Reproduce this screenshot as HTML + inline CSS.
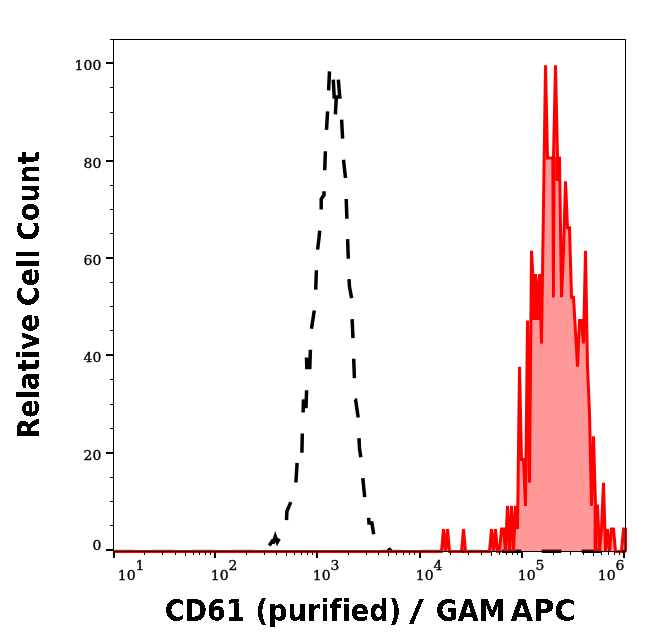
<!DOCTYPE html>
<html><head><meta charset="utf-8"><title>CD61 histogram</title>
<style>html,body{margin:0;padding:0;background:#fff;}svg{display:block;will-change:transform;}.tl{font-family:"DejaVu Serif","Liberation Serif",serif;font-size:14px;fill:#000;stroke:#000;stroke-width:0.35px;}.tt{font-family:"DejaVu Sans","Liberation Sans",sans-serif;font-weight:bold;font-size:30px;fill:#000;font-variant-ligatures:none;font-feature-settings:"liga" 0,"clig" 0;}</style></head><body>
<svg width="646" height="641" viewBox="0 0 646 641">
<defs><filter id="crisp" x="-0.1" y="-0.2" width="1.2" height="1.4" filterUnits="objectBoundingBox" color-interpolation-filters="sRGB"><feComponentTransfer><feFuncA type="discrete" tableValues="0 1"/></feComponentTransfer></filter></defs>
<rect width="646" height="641" fill="#fff"/>
<path d="M113.5,551.3 L133.5,551.3 M153.5,551.3 L173.5,551.3 M193.5,551.3 L213.5,551.3 M233.5,551.3 L253.5,551.3 M381.8,551.3 L387.3,551.3 L389.6,549.4 L391.9,551.3 L401.3,551.3 M421.8,551.3 L441.3,551.3 M461.8,551.3 L481.3,551.3 M501.8,551.3 L521.3,551.3 M541.8,551.3 L561.3,551.3 M581.8,551.3 L601.3,551.3 M621.8,551.3 L625.5,551.3" fill="none" stroke="#000" stroke-width="3.4" stroke-linejoin="miter"/>
<path d="M269.3,545.5 L272.3,541 L273.6,541.8 L275.3,536.5 L277.3,542 L279.2,538.6 M286.5,520.2 L286.9,511.2 L290.8,502.1 M295.9,482.5 L297.1,462.9 M301.9,452.7 L302.3,433.5 M303.1,412.5 L303.5,399.5 L306,408 L306.6,390.3 M306.5,357.5 L306.8,367.5 L309.8,367.5 L310.4,349.8 M311.4,328.7 L312.3,323.4 L314.3,310.5 M315.7,289.6 L316.4,270.2 M317.6,249.6 L319,238 L319.7,230.6 M321.2,209.6 L321.2,199.1 L324,194.9 L324,191.3 M324.7,170.3 L325.4,151.3 M326.5,129.9 L327.6,111.3 M328.6,90.3 L329.5,71.3 M333.3,79.7 L334.2,97 L339.8,97 L338.3,79.7 M336.3,97 L335.4,114.4 M341.6,119.7 L342.6,138.6 M343.5,159.7 L345.5,178 M346.2,199 L346.9,218.7 M347.6,239.1 L348.3,258.7 M349,279.1 L349.5,286.9 L351.6,298.1 M352.1,319.2 L353,338.1 M353.7,358.7 L354.4,378.1 M354.7,399.2 L355.6,399.8 L358.2,417.4 M359,438.2 L359.5,448.6 L360.8,457.3 M362.8,478.1 L364.7,497.2 M368.6,517.9 L369,523.1 L371.9,523.1 L373.7,534.3" fill="none" stroke="#000" stroke-width="3.5" stroke-linejoin="miter"/>
<g fill="#c9e3e3" shape-rendering="crispEdges"><rect x="114" y="549" width="19.5" height="1"/><rect x="153.5" y="549" width="20" height="1"/><rect x="193.5" y="549" width="20" height="1"/><rect x="233.5" y="549" width="20" height="1"/><rect x="381.8" y="549" width="5.2" height="1"/><rect x="392.2" y="549" width="9.1" height="1"/><rect x="421.8" y="549" width="19.5" height="1"/><rect x="465.5" y="549" width="15.8" height="1"/></g>
<path d="M114,551.5 L441.5,551.5 L443.5,529.11 L445.5,551.5 L447.5,529.11 L449.5,551.5 L461.5,551.5 L463.5,529.11 L465.5,551.5 L489.5,551.5 L491.5,529.11 L493.5,551.5 L495.5,529.11 L497.5,551.5 L499.5,551.5 L501.5,529.11 L503.5,529.11 L505.5,551.5 L507.5,505.92 L509.5,551.5 L511.5,505.92 L513.5,551.5 L515.5,505.92 L517.5,529.11 L519.5,366.78 L521.5,459.54 L523.5,459.54 L525.5,505.92 L527.5,320.4 L529.5,482.73 L531.5,250.83 L533.5,287.93 L535.5,274.02 L537.5,308.8 L539.5,274.02 L541.5,343.59 L543.5,204.45 L545.5,65.31 L547.5,158.07 L553.5,158.07 L555.5,65.31 L557.5,158.07 L559.5,158.07 L561.5,297.21 L563.5,250.83 L565.5,181.26 L567.5,227.64 L569.5,227.64 L571.5,297.21 L573.5,297.21 L575.5,331.99 L577.5,366.78 L579.5,320.4 L581.5,320.4 L583.5,343.59 L585.5,250.83 L587.5,366.78 L589.5,413.16 L591.5,505.92 L593.5,436.35 L595.5,505.92 L597.5,505.92 L599.5,551.5 L601.5,529.11 L603.5,482.73 L605.5,551.5 L607.5,529.11 L609.5,551.5 L611.5,529.11 L613.5,529.11 L615.5,551.5 L621.5,551.5 L623.5,529.11 L625.5,529.11 L625.5,551.5 Z" fill="#ff0000" fill-opacity="0.4" stroke="none"/>
<path d="M114,551.5 L441.5,551.5 L443.5,529.11 L445.5,551.5 L447.5,529.11 L449.5,551.5 L461.5,551.5 L463.5,529.11 L465.5,551.5 L489.5,551.5 L491.5,529.11 L493.5,551.5 L495.5,529.11 L497.5,551.5 L499.5,551.5 L501.5,529.11 L503.5,529.11 L505.5,551.5 L507.5,505.92 L509.5,551.5 L511.5,505.92 L513.5,551.5 L515.5,505.92 L517.5,529.11 L519.5,366.78 L521.5,459.54 L523.5,459.54 L525.5,505.92 L527.5,320.4 L529.5,482.73 L531.5,250.83 L533.5,287.93 L535.5,274.02 L537.5,308.8 L539.5,274.02 L541.5,343.59 L543.5,204.45 L545.5,65.31 L547.5,158.07 L553.5,158.07 L555.5,65.31 L557.5,158.07 L559.5,158.07 L561.5,297.21 L563.5,250.83 L565.5,181.26 L567.5,227.64 L569.5,227.64 L571.5,297.21 L573.5,297.21 L575.5,331.99 L577.5,366.78 L579.5,320.4 L581.5,320.4 L583.5,343.59 L585.5,250.83 L587.5,366.78 L589.5,413.16 L591.5,505.92 L593.5,436.35 L595.5,505.92 L597.5,505.92 L599.5,551.5 L601.5,529.11 L603.5,482.73 L605.5,551.5 L607.5,529.11 L609.5,551.5 L611.5,529.11 L613.5,529.11 L615.5,551.5 L621.5,551.5 L623.5,529.11 L625.5,529.11 L625.5,551.5" fill="none" stroke="#ff0000" stroke-width="3" stroke-linejoin="miter" stroke-miterlimit="4"/>
<path d="M551.3,157 L555.6,157 L554.8,297.5 L552,297.5 Z" fill="#ff0000"/>
<path d="M532,280 L535.5,280 L537.5,289 L541,284 L541,320 L531.5,320 Z" fill="#ff0000"/>
<path d="M555.5,157 L559.5,157 L559.5,181 L555.5,181 Z" fill="#ff0000"/>
<path d="M593.6,506 L597,506 L597.6,551.5 L593.6,551.5 Z" fill="#ff0000"/>
<g fill="#000" shape-rendering="crispEdges"><rect x="113" y="39" width="1" height="513"/><rect x="110" y="39" width="516" height="1"/><rect x="625" y="39" width="1" height="513"/><rect x="113" y="551" width="513" height="1"/><rect x="106" y="549" width="7" height="2"/><rect x="110" y="525" width="3" height="1"/><rect x="110" y="501" width="3" height="1"/><rect x="110" y="477" width="3" height="1"/><rect x="106" y="452" width="7" height="2"/><rect x="110" y="428" width="3" height="1"/><rect x="110" y="404" width="3" height="1"/><rect x="110" y="379" width="3" height="1"/><rect x="106" y="354" width="7" height="2"/><rect x="110" y="330" width="3" height="1"/><rect x="110" y="306" width="3" height="1"/><rect x="110" y="282" width="3" height="1"/><rect x="106" y="257" width="7" height="2"/><rect x="110" y="233" width="3" height="1"/><rect x="110" y="209" width="3" height="1"/><rect x="110" y="185" width="3" height="1"/><rect x="106" y="160" width="7" height="2"/><rect x="110" y="136" width="3" height="1"/><rect x="110" y="112" width="3" height="1"/><rect x="110" y="87" width="3" height="1"/><rect x="106" y="62" width="7" height="2"/><rect x="113" y="552" width="2" height="6"/><rect x="144" y="552" width="1" height="3"/><rect x="162" y="552" width="1" height="3"/><rect x="175" y="552" width="1" height="3"/><rect x="185" y="552" width="1" height="4"/><rect x="193" y="552" width="1" height="3"/><rect x="199" y="552" width="1" height="3"/><rect x="205" y="552" width="1" height="3"/><rect x="210" y="552" width="1" height="3"/><rect x="214" y="552" width="2" height="6"/><rect x="246" y="552" width="1" height="3"/><rect x="264" y="552" width="1" height="3"/><rect x="276" y="552" width="1" height="3"/><rect x="286" y="552" width="1" height="4"/><rect x="294" y="552" width="1" height="3"/><rect x="301" y="552" width="1" height="3"/><rect x="307" y="552" width="1" height="3"/><rect x="312" y="552" width="1" height="3"/><rect x="316" y="552" width="2" height="6"/><rect x="348" y="552" width="1" height="3"/><rect x="366" y="552" width="1" height="3"/><rect x="378" y="552" width="1" height="3"/><rect x="388" y="552" width="1" height="4"/><rect x="396" y="552" width="1" height="3"/><rect x="403" y="552" width="1" height="3"/><rect x="409" y="552" width="1" height="3"/><rect x="414" y="552" width="1" height="3"/><rect x="419" y="552" width="2" height="6"/><rect x="450" y="552" width="1" height="3"/><rect x="468" y="552" width="1" height="3"/><rect x="481" y="552" width="1" height="3"/><rect x="491" y="552" width="1" height="4"/><rect x="499" y="552" width="1" height="3"/><rect x="506" y="552" width="1" height="3"/><rect x="512" y="552" width="1" height="3"/><rect x="517" y="552" width="1" height="3"/><rect x="521" y="552" width="2" height="6"/><rect x="553" y="552" width="1" height="3"/><rect x="570" y="552" width="1" height="3"/><rect x="583" y="552" width="1" height="3"/><rect x="593" y="552" width="1" height="4"/><rect x="601" y="552" width="1" height="3"/><rect x="608" y="552" width="1" height="3"/><rect x="614" y="552" width="1" height="3"/><rect x="619" y="552" width="1" height="3"/><rect x="623" y="552" width="2" height="6"/></g>
<g transform="translate(101.3,549.9) scale(1,0.93)"><text class="tl" x="0" y="0" text-anchor="end">0</text></g>
<g transform="translate(101.3,459.9) scale(1,0.93)"><text class="tl" x="0" y="0" text-anchor="end">20</text></g>
<g transform="translate(101.3,361.9) scale(1,0.93)"><text class="tl" x="0" y="0" text-anchor="end">40</text></g>
<g transform="translate(101.3,264.7) scale(1,0.93)"><text class="tl" x="0" y="0" text-anchor="end">60</text></g>
<g transform="translate(101.3,167.6) scale(1,0.93)"><text class="tl" x="0" y="0" text-anchor="end">80</text></g>
<g transform="translate(101.3,70.1) scale(1,0.93)"><text class="tl" x="0" y="0" text-anchor="end">100</text></g>
<g transform="translate(117.8,580) scale(1,0.93)"><text class="tl" x="0" y="0">10<tspan dy="-10.6">1</tspan></text></g>
<g transform="translate(210.8,580) scale(1,0.93)"><text class="tl" x="0" y="0">10<tspan dy="-10.6">2</tspan></text></g>
<g transform="translate(312.8,580) scale(1,0.93)"><text class="tl" x="0" y="0">10<tspan dy="-10.6">3</tspan></text></g>
<g transform="translate(415.8,580) scale(1,0.93)"><text class="tl" x="0" y="0">10<tspan dy="-10.6">4</tspan></text></g>
<g transform="translate(517.8,580) scale(1,0.93)"><text class="tl" x="0" y="0">10<tspan dy="-10.6">5</tspan></text></g>
<g transform="translate(597.8,580) scale(1,0.93)"><text class="tl" x="0" y="0">10<tspan dy="-10.6">6</tspan></text></g>
<text class="tt" filter="url(#crisp)" transform="translate(164.64,621) scale(0.9048,1)" x="0" y="0">CD61</text>
<text class="tt" filter="url(#crisp)" transform="translate(255.44,621) scale(0.9086,1)" x="0" y="0">(purified)</text>
<text class="tt" filter="url(#crisp)" transform="translate(409.1,621) scale(1.3486,1)" x="0" y="0">/</text>
<text class="tt" filter="url(#crisp)" transform="translate(435.65,621) scale(0.9019,1)" x="0" y="0">GAM</text>
<text class="tt" filter="url(#crisp)" transform="translate(510.41,621) scale(0.9708,1)" x="0" y="0">APC</text>
<g transform="translate(39,0) rotate(-90)">
<text class="tt" filter="url(#crisp)" transform="translate(-438.52,0) scale(0.9010,1)" x="0" y="0">Relative</text>
<text class="tt" filter="url(#crisp)" transform="translate(-306.25,0) scale(0.9015,1)" x="0" y="0">Cell</text>
<text class="tt" filter="url(#crisp)" transform="translate(-240.74,0) scale(0.8964,1)" x="0" y="0">Count</text>
</g>
</svg></body></html>
